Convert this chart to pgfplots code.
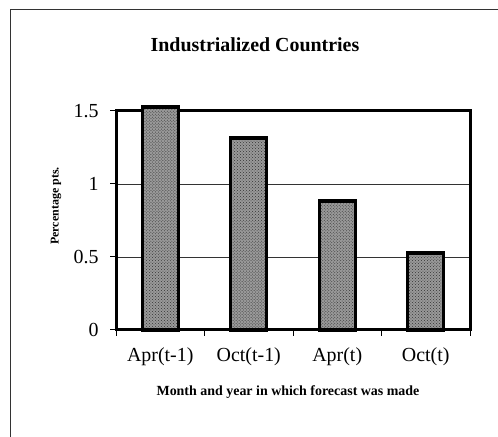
\documentclass[border=0pt]{standalone}
\usepackage{fontspec}
\setmainfont{Liberation Serif}
\usepackage{pgfplots}
\pgfplotsset{compat=1.18}
\usetikzlibrary{patterns}
\begin{document}
\begin{tikzpicture}[x=1bp,y=1bp]
\useasboundingbox (0,0) rectangle (498,437);
\draw[line width=1bp, black!80] (10,0) -- (10,427) -- (498,427);
\node[font=\fontsize{20}{24}\selectfont\bfseries] at (255,392) {Industrialized Countries};
\node[font=\fontsize{14}{16}\selectfont\bfseries] at (288,45) {Month and year in which forecast was made};
\node[font=\fontsize{12}{14}\selectfont\bfseries, rotate=90] at (56,231) {Percentage pts.};
\begin{axis}[
  at={(116bp,107bp)}, anchor=south west,
  scale only axis, width=354bp, height=219bp,
  xmin=-0.5, xmax=3.5, ymin=0, ymax=1.5,
  clip=false,
  axis line style={line width=3bp},
  xtick={0,1,2,3},
  xticklabels={Apr(t-1),Oct(t-1),Apr(t),Oct(t)},
  every major x tick/.append style={draw=none},
  minor xtick={-0.5,0.5,1.5,2.5,3.5},
  minor tick length=6bp,
  every minor x tick/.append style={line width=1bp, black},
  ytick={0,0.5,1,1.5},
  yticklabels={0,0.5,1,1.5},
  major tick length=6bp,
  tick align=outside, tick pos=left,
  every major y tick/.append style={line width=1bp, black},
  ymajorgrids, grid style={line width=0.9bp, black!80},
  /pgf/number format/assume math mode=true,
  ticklabel style={font=\fontsize{20}{24}\selectfont},
  xticklabel style={yshift=-8bp},
  yticklabel style={xshift=-8bp},
  ybar, bar width=36bp, bar shift=0pt,
]
\addplot[draw=black, line width=3.2bp, fill=black!40,
  postaction={pattern=crosshatch dots, pattern color=black!80}]
  coordinates {(0,1.527) (1,1.315) (2,0.884) (3,0.527)};
\end{axis}
\end{tikzpicture}
\end{document}
